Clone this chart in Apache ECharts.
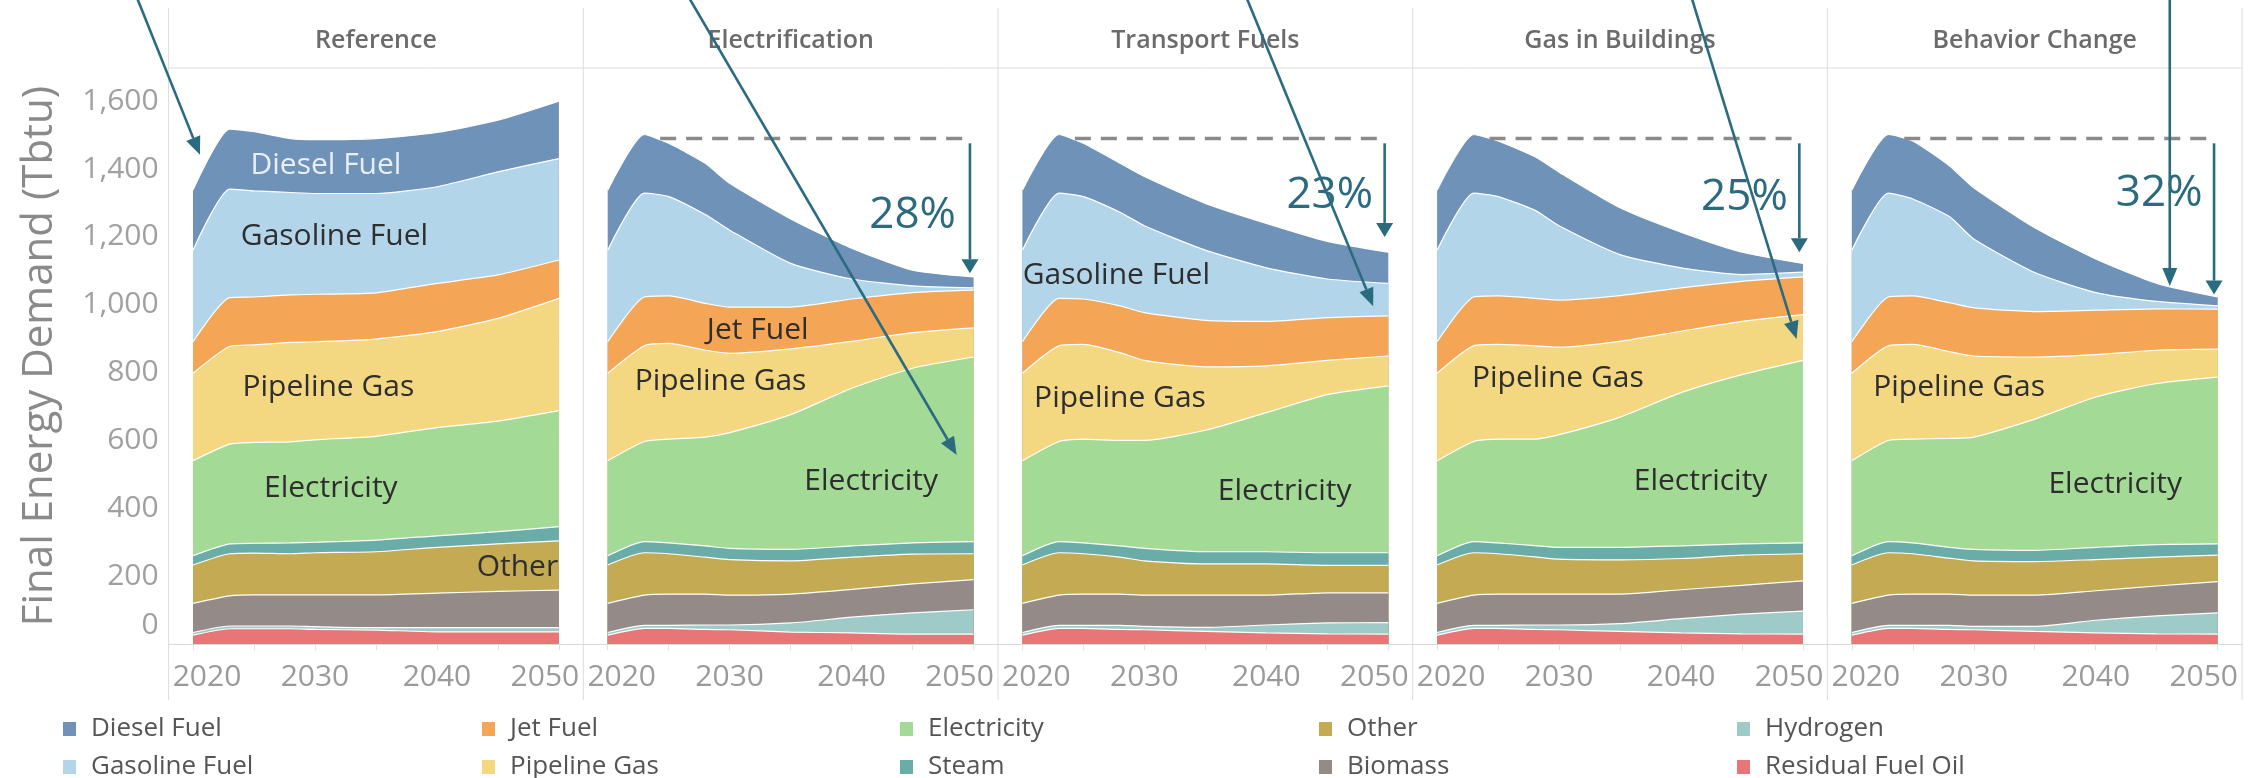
<!DOCTYPE html>
<html>
<head>
<meta charset="utf-8">
<script src="https://cdn.jsdelivr.net/npm/echarts@6/dist/echarts.min.js"></script>
<style>
  html, body { margin: 0; padding: 0; background: #fff; }
  #chart { width: 2259px; height: 778px; }
</style>
</head>
<body>
<div id="chart"></div>
<script>
// ---- data ----
var years = [2020, 2023, 2025, 2028, 2030, 2035, 2040, 2045, 2050];
var scenarios = ['Reference', 'Electrification', 'Transport Fuels', 'Gas in Buildings', 'Behavior Change'];
// stacking order, bottom -> top
var fuels = ['Residual Fuel Oil', 'Hydrogen', 'Biomass', 'Other', 'Steam', 'Electricity',
             'Pipeline Gas', 'Jet Fuel', 'Gasoline Fuel', 'Diesel Fuel'];
var xTickYears = [2020, 2025, 2030, 2035, 2040, 2045, 2050];
var xLabelYears = [2020, 2030, 2040, 2050];
var yLabelValues = [0, 200, 400, 600, 800, 1000, 1200, 1400, 1600];

// Reference
var refResidual    = [26, 45, 45, 45, 43, 41, 36, 36, 36];
var refHydrogen    = [8, 8, 8, 8, 8, 7, 12, 12, 12];
var refBiomass     = [86, 89, 92, 92, 94, 97, 102, 107, 111];
var refOther       = [113, 124, 123, 121, 124, 127, 135, 140, 145];
var refSteam       = [27, 29, 29, 32, 31, 34, 34, 36, 42];
var refElectricity = [280, 294, 297, 298, 302, 306, 319, 326, 342];
var refPipeline    = [258, 288, 288, 293, 289, 287, 283, 303, 331];
var refJet         = [93, 144, 141, 140, 140, 136, 142, 128, 113];
var refGasoline    = [270, 320, 313, 302, 297, 293, 285, 304, 299];
var refDiesel      = [177, 177, 174, 159, 159, 162, 160, 152, 169];

// Electrification
var eleResidual    = [26, 46, 46, 43, 42, 35, 33, 29, 29];
var eleHydrogen    = [8, 9, 9, 13, 14, 27, 46, 63, 72];
var eleBiomass     = [86, 89, 92, 91, 88, 85, 82, 85, 89];
var eleOther       = [113, 125, 119, 109, 105, 98, 95, 88, 76];
var eleSteam       = [27, 33, 32, 33, 33, 34, 33, 33, 36];
var eleElectricity = [280, 295, 306, 321, 341, 397, 465, 515, 544];
var elePipeline    = [258, 282, 282, 256, 234, 194, 138, 105, 86];
var eleJet         = [93, 144, 140, 138, 136, 123, 125, 118, 111];
var eleGasoline    = [270, 306, 293, 262, 227, 129, 59, 20, 7];
var eleDiesel      = [177, 173, 157, 151, 138, 131, 91, 46, 32];

// Transport Fuels
var trnResidual    = [26, 46, 46, 43, 42, 37, 33, 30, 29];
var trnHydrogen    = [8, 9, 9, 12, 10, 12, 23, 32, 34];
var trnBiomass     = [86, 89, 92, 92, 92, 95, 88, 89, 88];
var trnOther       = [113, 125, 119, 109, 101, 92, 92, 81, 81];
var trnSteam       = [27, 33, 32, 33, 37, 36, 36, 37, 37];
var trnElectricity = [280, 295, 306, 311, 318, 358, 410, 466, 492];
var trnPipeline    = [258, 282, 279, 259, 236, 187, 138, 101, 88];
var trnJet         = [93, 140, 134, 138, 141, 137, 131, 126, 118];
var trnGasoline    = [270, 310, 302, 276, 256, 207, 158, 114, 96];
var trnDiesel      = [177, 173, 157, 144, 145, 138, 131, 111, 92];

// Gas in Buildings
var gasResidual    = [26, 46, 46, 43, 42, 37, 33, 30, 29];
var gasHydrogen    = [8, 9, 9, 13, 14, 23, 42, 58, 68];
var gasBiomass     = [86, 89, 92, 91, 91, 87, 85, 85, 89];
var gasOther       = [113, 125, 119, 110, 103, 101, 92, 89, 80];
var gasSteam       = [27, 33, 32, 33, 35, 37, 37, 33, 32];
var gasElectricity = [280, 295, 306, 314, 332, 384, 452, 499, 538];
var gasPipeline    = [258, 282, 279, 275, 258, 223, 181, 157, 135];
var gasJet         = [93, 144, 143, 140, 139, 135, 128, 118, 111];
var gasGasoline    = [270, 306, 293, 260, 219, 121, 59, 20, 14];
var gasDiesel      = [177, 173, 164, 158, 158, 138, 105, 66, 26];

// Behavior Change
var behResidual    = [26, 46, 46, 43, 42, 37, 33, 30, 29];
var behHydrogen    = [8, 9, 9, 12, 10, 15, 37, 53, 63];
var behBiomass     = [86, 89, 92, 92, 92, 92, 87, 88, 92];
var behOther       = [113, 125, 119, 106, 101, 99, 92, 85, 78];
var behSteam       = [27, 33, 32, 32, 34, 33, 36, 37, 33];
var behElectricity = [280, 298, 306, 321, 331, 387, 443, 475, 492];
var behPipeline    = [258, 279, 279, 256, 239, 183, 125, 98, 82];
var behJet         = [93, 144, 143, 144, 142, 134, 131, 122, 118];
var behGasoline    = [270, 306, 286, 254, 203, 115, 52, 22, 10];
var behDiesel      = [177, 173, 171, 150, 151, 132, 99, 53, 26];

var scenarioData = [
  [refResidual, refHydrogen, refBiomass, refOther, refSteam, refElectricity, refPipeline, refJet, refGasoline, refDiesel],
  [eleResidual, eleHydrogen, eleBiomass, eleOther, eleSteam, eleElectricity, elePipeline, eleJet, eleGasoline, eleDiesel],
  [trnResidual, trnHydrogen, trnBiomass, trnOther, trnSteam, trnElectricity, trnPipeline, trnJet, trnGasoline, trnDiesel],
  [gasResidual, gasHydrogen, gasBiomass, gasOther, gasSteam, gasElectricity, gasPipeline, gasJet, gasGasoline, gasDiesel],
  [behResidual, behHydrogen, behBiomass, behOther, behSteam, behElectricity, behPipeline, behJet, behGasoline, behDiesel]
];

// reduction annotations (scenarios 2-5)
var pctText = ['28%', '23%', '25%', '32%'];
var dropTips = [1093, 1200, 1155, 1030];

// ---- styles / layout ----
var fuelColors = {
  'Diesel Fuel': '#6f93b8',
  'Gasoline Fuel': '#b3d5ea',
  'Jet Fuel': '#f4a555',
  'Pipeline Gas': '#f3d781',
  'Electricity': '#a3da95',
  'Steam': '#6aaca8',
  'Other': '#c4ab53',
  'Biomass': '#948b89',
  'Hydrogen': '#9ecbc7',
  'Residual Fuel Oil': '#e87677'
};
var legendCols = [
  ['Diesel Fuel', 'Gasoline Fuel'],
  ['Jet Fuel', 'Pipeline Gas'],
  ['Electricity', 'Steam'],
  ['Other', 'Biomass'],
  ['Hydrogen', 'Residual Fuel Oil']
];
var legendLeft = [63, 482, 900, 1319, 1737];

var FONT = "'Open Sans', 'Noto Sans', sans-serif";
var GRID_LEFT = 168.6, GRID_W = 414.7, GRID_TOP = 68, GRID_H = 576;
var X_MIN = 2018, X_MAX = 2052, Y_MAX = 1698;
var ARROW = '#2b6b80';

var chartDom = document.getElementById('chart');
var chart = echarts.init(chartDom, null, { width: 2259, height: 778 });

var grids = [], xAxes = [], yAxes = [], series = [];
scenarios.forEach(function (scn, k) {
  grids.push({ left: GRID_LEFT + k * GRID_W, top: GRID_TOP, width: GRID_W, height: GRID_H });
  xAxes.push({
    type: 'value', gridIndex: k, min: X_MIN, max: X_MAX,
    axisLine: { lineStyle: { color: '#d9d9d9', width: 1 } },
    axisTick: { customValues: xTickYears, length: 6, lineStyle: { color: '#e2e2e2' } },
    axisLabel: {
      customValues: xLabelYears, color: '#9a9a9a', fontSize: 30, fontFamily: FONT, margin: 18,
      formatter: function (v) {
        if (v === 2020) return '{a|2020}';
        if (v === 2050) return '{b|2050}';
        return String(v);
      },
      rich: {
        a: { fontSize: 30, fontFamily: FONT, color: '#9a9a9a', padding: [0, 0, 0, 28] },
        b: { fontSize: 30, fontFamily: FONT, color: '#9a9a9a', padding: [0, 28, 0, 0] }
      }
    },
    splitLine: { show: false }
  });
  var y = {
    type: 'value', gridIndex: k, min: 0, max: Y_MAX, interval: 200,
    axisLine: { show: false }, axisTick: { show: false }, splitLine: { show: false },
    axisLabel: { show: false }
  };
  if (k === 0) {
    y.axisLabel = {
      show: true, customValues: yLabelValues, color: '#a0a0a0', fontSize: 30, fontFamily: FONT, margin: 10,
      formatter: function (v) {
        if (v === 0) return '{z|0}';
        return v.toLocaleString('en-US');
      },
      rich: { z: { fontSize: 30, fontFamily: FONT, color: '#a0a0a0', padding: [0, 0, 38, 0] } }
    };
    y.name = 'Final Energy Demand (Tbtu)';
    y.nameLocation = 'middle';
    y.nameGap = 108;
    y.nameTextStyle = { fontSize: 42, color: '#8a8a8a', fontFamily: FONT };
  }
  yAxes.push(y);

  // running totals; each layer is filled down to the axis and drawn from the top layer down,
  // so the visible band of every fuel is the gap between its total and the one below it
  var running = years.map(function () { return 0; });
  var layers = [];
  fuels.forEach(function (f, i) {
    var vals = scenarioData[k][i];
    running = running.map(function (r, j) { return r + vals[j]; });
    layers.push({ name: f, tops: running.slice() });
  });
  layers.reverse().forEach(function (layer) {
    series.push({
      name: layer.name, type: 'line', xAxisIndex: k, yAxisIndex: k,
      data: years.map(function (yr, j) { return [yr, layer.tops[j]]; }),
      showSymbol: false, symbol: 'none', smooth: 0.2,
      lineStyle: { color: '#ffffff', width: 1.2 },
      itemStyle: { color: fuelColors[layer.name] },
      areaStyle: { color: fuelColors[layer.name], opacity: 1, origin: 'start' },
      emphasis: { disabled: true }
    });
  });
});

var legends = legendCols.map(function (col, c) {
  return {
    orient: 'vertical', left: legendLeft[c], top: 716, height: 90, padding: 0, icon: 'rect',
    itemWidth: 13, itemHeight: 14, itemGap: 12, selectedMode: false,
    textStyle: { fontSize: 26, lineHeight: 26, color: '#555', fontFamily: FONT, padding: [0, 0, 0, 10] },
    data: col.map(function (n) { return { name: n, itemStyle: { color: fuelColors[n] } }; })
  };
});

chart.setOption({ animation: false, backgroundColor: '#fff',
  grid: grids, xAxis: xAxes, yAxis: yAxes, series: series, legend: legends });

// ---- annotations placed through the axes ----
function px(k, x, v) { return chart.convertToPixel({ gridIndex: k }, [x, v]); }

function arrow(p0, p1, width, headLen, headW) {
  var dx = p1[0] - p0[0], dy = p1[1] - p0[1], L = Math.sqrt(dx * dx + dy * dy);
  var ux = dx / L, uy = dy / L, nx = -uy, ny = ux;
  var bx = p1[0] - ux * headLen, by = p1[1] - uy * headLen;
  return [
    { type: 'line', z: 100, silent: true, shape: { x1: p0[0], y1: p0[1], x2: bx, y2: by },
      style: { stroke: ARROW, lineWidth: width } },
    { type: 'polygon', z: 100, silent: true,
      shape: { points: [[p1[0], p1[1]], [bx + nx * headW / 2, by + ny * headW / 2], [bx - nx * headW / 2, by - ny * headW / 2]] },
      style: { fill: ARROW } }
  ];
}

function label(p, str, size, color, weight) {
  return { type: 'text', z: 100, silent: true, x: p[0], y: p[1],
    style: { text: str, fontSize: size, fontFamily: FONT, fontWeight: weight || 'normal', fill: color,
      align: 'center', verticalAlign: 'middle' } };
}

var g = [];
var headerY = px(0, X_MIN, Y_MAX)[1];
var leftX = px(0, X_MIN, 0)[0], rightX = px(4, X_MAX, 0)[0];
for (var k = 0; k <= 5; k++) {
  var xx = k < 5 ? px(k, X_MIN, 0)[0] : rightX;
  g.push({ type: 'line', z: 1, silent: true, shape: { x1: xx, y1: 8, x2: xx, y2: 700 },
    style: { stroke: '#dcdcdc', lineWidth: 1 } });
}
g.push({ type: 'line', z: 1, silent: true, shape: { x1: leftX, y1: headerY, x2: rightX, y2: headerY },
  style: { stroke: '#dcdcdc', lineWidth: 1 } });

scenarios.forEach(function (scn, k) {
  var cx = (px(k, X_MIN, 0)[0] + px(k, X_MAX, 0)[0]) / 2;
  g.push(label([cx, 41], scn, 25, '#6b6b6b', 600));
});

// in-area labels: [panel, text, year, value, colour]
var areaLabels = [
  [0, 'Diesel Fuel', 2030.9, 1412, '#e8eef6'],
  [0, 'Gasoline Fuel', 2031.6, 1200],
  [0, 'Pipeline Gas', 2031.1, 756],
  [0, 'Electricity', 2031.3, 460],
  [0, 'Other', 2046.6, 225],
  [1, 'Jet Fuel', 2032.3, 925],
  [1, 'Pipeline Gas', 2029.25, 774],
  [1, 'Electricity', 2041.6, 479],
  [2, 'Gasoline Fuel', 2027.7, 1087],
  [2, 'Pipeline Gas', 2028.0, 725],
  [2, 'Electricity', 2041.5, 449],
  [3, 'Pipeline Gas', 2029.9, 783],
  [3, 'Electricity', 2041.6, 479],
  [4, 'Pipeline Gas', 2028.8, 757],
  [4, 'Electricity', 2041.6, 471]
];
areaLabels.forEach(function (a) {
  g.push(label(px(a[0], a[2], a[3]), a[1], 30, a[4] || '#2e2e2e'));
});

var pctPos = [[2045.0, 1264], [2045.2, 1322], [2045.2, 1316], [2045.2, 1328]];
for (var s = 0; s < 4; s++) {
  var k2 = s + 1;
  var a0 = px(k2, 2024.3, 1490), a1 = px(k2, 2049.7, 1490);
  g.push({ type: 'line', z: 100, silent: true, shape: { x1: a0[0], y1: a0[1], x2: a1[0], y2: a1[1] },
    style: { stroke: '#8a8a8a', lineWidth: 3.5, lineDash: [16, 10] } });
  g = g.concat(arrow(px(k2, 2049.7, 1476), px(k2, 2049.7, dropTips[s]), 2.6, 14, 17));
  g.push(label(px(k2, pctPos[s][0], pctPos[s][1]), pctText[s], 44, ARROW));
}

// pointer arrows coming in from above the figure: [panel, start year, tip year, tip value]
var pointers = [
  [0, 2015.41, 2020.57, 1442],
  [1, 2026.67, 2048.61, 557],
  [2, 2038.38, 2048.76, 996],
  [3, 2040.87, 2049.47, 899],
  [4, 2046.07, 2046.07, 1055]
];
pointers.forEach(function (p) {
  g = g.concat(arrow(px(p[0], p[1], 1905), px(p[0], p[2], p[3]), 2.6, 18, 15));
});

chart.setOption({ graphic: { elements: g } });
</script>
</body>
</html>
